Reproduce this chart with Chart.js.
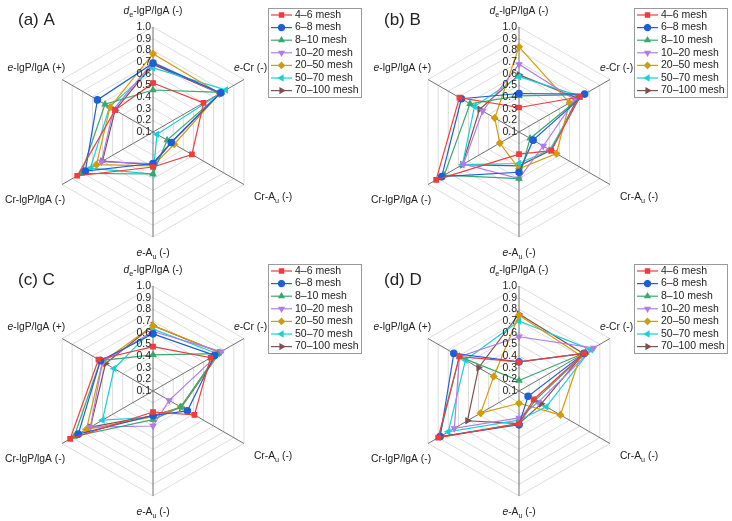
<!DOCTYPE html>
<html>
<head>
<meta charset="utf-8">
<script src="https://cdn.jsdelivr.net/npm/chart.js@4.4.1/dist/chart.umd.min.js"></script>
<style>
  body { margin: 0; background: #fff; width: 732px; height: 521px; position: relative; overflow: hidden; }
  .panel { position: absolute; width: 366px; height: 260px; }
</style>
</head>
<body>
<div class="panel" style="left:0;top:0"><canvas id="cA" width="366" height="260"></canvas></div>
<div class="panel" style="left:366px;top:0"><canvas id="cB" width="366" height="260"></canvas></div>
<div class="panel" style="left:0;top:260px"><canvas id="cC" width="366" height="261"></canvas></div>
<div class="panel" style="left:366px;top:260px"><canvas id="cD" width="366" height="261"></canvas></div>
<script>
// axis names, clockwise from the top
const axisParts = [
  [{ t: 'd', i: 1 }, { t: 'e', s: 1 }, { t: '-lgP/lgA (-)' }],
  [{ t: 'e', i: 1 }, { t: '-Cr (-)' }],
  [{ t: 'Cr-A' }, { t: 'u', s: 1 }, { t: ' (-)' }],
  [{ t: 'e', i: 1 }, { t: '-A' }, { t: 'u', s: 1 }, { t: ' (-)' }],
  [{ t: 'Cr-lgP/lgA (-)' }],
  [{ t: 'e', i: 1 }, { t: '-lgP/lgA (+)' }]
];
const axisLabels = axisParts.map(p => p.map(s => s.t).join(''));

const meshes = ['4–6 mesh', '6–8 mesh', '8–10 mesh', '10–20 mesh', '20–50 mesh', '50–70 mesh', '70–100 mesh'];
const colors = ['#f03c3c', '#1c5fd6', '#3aa76d', '#b27be8', '#d49b06', '#17d0d8', '#7e4f4f'];
const markers = ['rect', 'circle', 'triangle', 'triangle', 'rectRot', 'triangle', 'triangle'];
const markerRot = [0, 0, 0, 180, 0, -90, 90];

const tickValues = [0.1, 0.2, 0.3, 0.4, 0.5, 0.6, 0.7, 0.8, 0.9, 1.0];
const panelTitles = ['(a) A', '(b) B', '(c) C', '(d) D'];

// one row per mesh fraction, columns follow axisLabels
const valuesA = [
  [0.52, 0.60, 0.485, 0.40, 0.85, 0.475],
  [0.69, 0.77, 0.28, 0.37, 0.77, 0.65],
  [0.46, 0.78, 0.24, 0.46, 0.81, 0.575],
  [0.70, 0.76, 0.28, 0.37, 0.61, 0.49],
  [0.77, 0.76, 0.31, 0.39, 0.66, 0.525],
  [0.65, 0.82, 0.14, 0.46, 0.72, 0.53],
  [0.68, 0.76, 0.28, 0.38, 0.60, 0.475]
];
const valuesB = [
  [0.31, 0.70, 0.42, 0.29, 0.92, 0.69],
  [0.43, 0.75, 0.24, 0.445, 0.865, 0.67],
  [0.41, 0.74, 0.21, 0.50, 0.84, 0.585],
  [0.68, 0.655, 0.34, 0.50, 0.65, 0.46],
  [0.83, 0.60, 0.47, 0.415, 0.29, 0.34],
  [0.575, 0.71, 0.405, 0.37, 0.66, 0.54],
  [0.59, 0.68, 0.415, 0.39, 0.66, 0.49]
];
const valuesC = [
  [0.48, 0.67, 0.51, 0.28, 0.92, 0.64],
  [0.59, 0.71, 0.44, 0.31, 0.84, 0.62],
  [0.41, 0.74, 0.375, 0.345, 0.88, 0.62],
  [0.61, 0.775, 0.26, 0.40, 0.72, 0.60],
  [0.66, 0.76, 0.375, 0.32, 0.76, 0.60],
  [0.63, 0.74, 0.375, 0.325, 0.60, 0.485],
  [0.66, 0.76, 0.38, 0.31, 0.72, 0.57]
];
const valuesD = [
  [0.35, 0.745, 0.245, 0.38, 0.90, 0.69],
  [0.35, 0.745, 0.19, 0.39, 0.88, 0.745],
  [0.19, 0.76, 0.26, 0.38, 0.89, 0.69],
  [0.565, 0.84, 0.29, 0.33, 0.74, 0.69],
  [0.75, 0.71, 0.51, 0.205, 0.48, 0.35],
  [0.70, 0.81, 0.37, 0.35, 0.80, 0.63],
  [0.76, 0.74, 0.32, 0.38, 0.61, 0.50]
];

const FONT = "'Liberation Sans', Arial, sans-serif";

function drawRich(ctx, parts, x, y, align, size) {
  let total = 0;
  parts.forEach(p => {
    ctx.font = (p.i ? 'italic ' : '') + (p.s ? size * 0.7 : size) + 'px ' + FONT;
    p.w = ctx.measureText(p.t).width;
    total += p.w;
  });
  let sx = align === 'center' ? x - total / 2 : (align === 'right' ? x - total : x);
  ctx.textAlign = 'left';
  ctx.textBaseline = 'middle';
  parts.forEach(p => {
    ctx.font = (p.i ? 'italic ' : '') + (p.s ? size * 0.7 : size) + 'px ' + FONT;
    ctx.fillText(p.t, sx, y + (p.s ? size * 0.3 : 0));
    sx += p.w;
  });
}

// label offsets from each outer vertex
const labelOffsets = [
  { dx: 0, dy: -15.5, align: 'center' },
  { dx: -10, dy: -11, align: 'left' },
  { dx: 10, dy: 13, align: 'left' },
  { dx: 0, dy: 16.5, align: 'center' },
  { dx: 3, dy: 16, align: 'right' },
  { dx: 3, dy: -11, align: 'right' }
];

const decor = {
  id: 'decor',
  afterDraw(chart) {
    const ctx = chart.ctx;
    const r = chart.scales.r;
    ctx.save();
    ctx.fillStyle = '#222';
    // radial tick labels
    ctx.font = '10.5px ' + FONT;
    ctx.textAlign = 'right';
    ctx.textBaseline = 'middle';
    tickValues.forEach(v => {
      const y = r.yCenter - r.getDistanceFromCenterForValue(v);
      ctx.fillText(v.toFixed(1), r.xCenter - 2, y);
    });
    // axis names
    axisParts.forEach((parts, i) => {
      const p = r.getPointPosition(i, r.drawingArea);
      const o = labelOffsets[i];
      drawRich(ctx, parts, p.x + o.dx, p.y + o.dy, o.align, 10.3);
    });
    // panel title
    ctx.font = '17px ' + FONT;
    ctx.textAlign = 'left';
    ctx.fillText(chart.options.panelTitle, 18, 20);
    // legend
    const lx = 268, ly = chart.options.legendTop;
    ctx.strokeStyle = '#9a9a9a';
    ctx.lineWidth = 1;
    ctx.strokeRect(lx + 0.5, ly + 0.5, 93, 89);
    chart.data.datasets.forEach((ds, i) => {
      const y = ly + 7 + i * 12.6;
      ctx.strokeStyle = ds.borderColor;
      ctx.lineWidth = 1.2;
      ctx.beginPath();
      ctx.moveTo(lx + 3, y);
      ctx.lineTo(lx + 24, y);
      ctx.stroke();
      ctx.fillStyle = ds.borderColor;
      Chart.helpers.drawPoint(ctx, { pointStyle: ds.pointStyle, rotation: ds.pointRotation, radius: 3, borderWidth: 1 }, lx + 13.5, y);
      ctx.fillStyle = '#222';
      ctx.font = '10.5px ' + FONT;
      ctx.textAlign = 'left';
      ctx.textBaseline = 'middle';
      ctx.fillText(ds.label, lx + 27, y);
    });
    ctx.restore();
  }
};

function makeRadar(id, values, title, pad, legendTop) {
  new Chart(document.getElementById(id), {
    type: 'radar',
    data: {
      labels: axisLabels,
      datasets: values.map((row, i) => ({
        label: meshes[i],
        data: row,
        borderColor: colors[i],
        backgroundColor: colors[i],
        pointBackgroundColor: colors[i],
        pointBorderColor: colors[i],
        pointStyle: markers[i],
        pointRotation: markerRot[i],
        pointRadius: 3.2,
        borderWidth: 1.2,
        fill: false
      }))
    },
    options: {
      responsive: false,
      animation: false,
      panelTitle: title,
      legendTop: legendTop,
      layout: { padding: pad },
      scales: {
        r: {
          min: 0.1,
          max: 1.0,
          ticks: { display: false, stepSize: 0.1 },
          grid: { color: '#dcdcdc', lineWidth: 1 },
          angleLines: { color: '#707070', lineWidth: 1 },
          pointLabels: { display: false }
        }
      },
      plugins: { legend: { display: false }, tooltip: { enabled: false } }
    },
    plugins: [decor]
  });
}

const padTop = { left: 48, right: 108, top: 27, bottom: 23 };
const padBottom = { left: 48, right: 108, top: 26, bottom: 25 };
makeRadar('cA', valuesA, panelTitles[0], padTop, 8);
makeRadar('cB', valuesB, panelTitles[1], padTop, 8);
makeRadar('cC', valuesC, panelTitles[2], padBottom, 4);
makeRadar('cD', valuesD, panelTitles[3], padBottom, 4);
</script>
</body>
</html>
